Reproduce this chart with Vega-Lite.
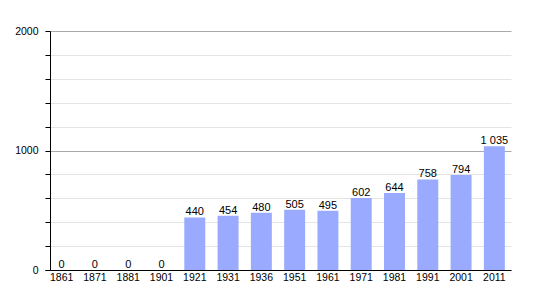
{
  "$schema": "https://vega.github.io/schema/vega-lite/v6.json",
  "autosize": "none",
  "width": 466,
  "height": 239,
  "padding": {"left": 45, "top": 31, "right": 24, "bottom": 30},
  "background": "white",
  "config": {"view": {"stroke": null}, "font": "Liberation Sans"},
  "data": {"values": [
    {"year": "1861", "pop": 0, "label": "0"},
    {"year": "1871", "pop": 0, "label": "0"},
    {"year": "1881", "pop": 0, "label": "0"},
    {"year": "1901", "pop": 0, "label": "0"},
    {"year": "1921", "pop": 440, "label": "440"},
    {"year": "1931", "pop": 454, "label": "454"},
    {"year": "1936", "pop": 480, "label": "480"},
    {"year": "1951", "pop": 505, "label": "505"},
    {"year": "1961", "pop": 495, "label": "495"},
    {"year": "1971", "pop": 602, "label": "602"},
    {"year": "1981", "pop": 644, "label": "644"},
    {"year": "1991", "pop": 758, "label": "758"},
    {"year": "2001", "pop": 794, "label": "794"},
    {"year": "2011", "pop": 1035, "label": "1 035"}
  ]},
  "encoding": {
    "x": {"field": "year", "type": "nominal", "sort": null,
      "scale": {"paddingInner": 0.37, "paddingOuter": 0.185},
      "axis": {"title": null, "labelAngle": 0, "ticks": false, "domainColor": "black", "domainWidth": 1.2, "labelFontSize": 10.5, "labelColor": "black", "labelPadding": 2, "offset": 0}},
    "y": {"field": "pop", "type": "quantitative",
      "scale": {"domain": [0, 2000], "nice": false},
      "axis": {"title": null, "offset": -5, "values": [0,200,400,600,800,1000,1200,1400,1600,1800,2000],
        "labelExpr": "datum.value % 1000 === 0 ? datum.value : ''",
        "tickColor": "black", "tickSize": 5, "domainColor": "black", "labelColor": "black", "labelFontSize": 10.5, "labelPadding": 7,
        "gridColor": {"condition": {"test": "datum.value % 1000 === 0", "value": "#aaaaaa"}, "value": "#e4e4e4"}}}
  },
  "layer": [
    {"mark": {"type": "bar", "color": "#9aabff"}},
    {"mark": {"type": "text", "baseline": "alphabetic", "dy": -2, "fontSize": 11, "color": "black"},
     "encoding": {"text": {"field": "label"}}}
  ]
}
